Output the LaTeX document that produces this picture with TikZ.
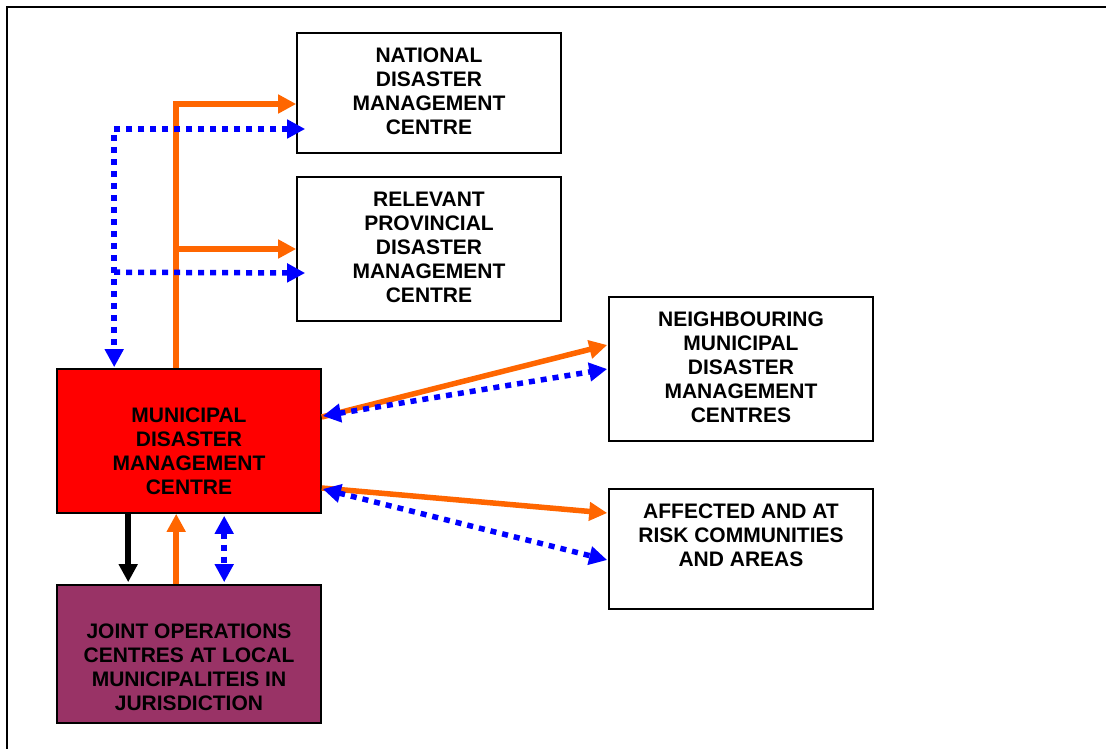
\documentclass[tikz,border=0pt]{standalone}
\usepackage{fontspec}
\setmainfont{Liberation Sans}
\usetikzlibrary{arrows.meta,calc}

\definecolor{orgline}{HTML}{FF6600}
\definecolor{bluline}{HTML}{0000FF}
\definecolor{mdmc}{HTML}{FF0000}
\definecolor{jocfill}{HTML}{993366}

\tikzset{
  panel/.style={draw=black, line width=1.6pt, rectangle, inner sep=0pt},
  paneltext/.style={font={\fontsize{21pt}{24pt}\selectfont\bfseries}, align=center, inner sep=0pt, anchor=north},
  orgarrow/.style={draw=orgline, line width=5.5pt, -{Triangle[length=18pt,width=18pt]}},
  bluarrow/.style={draw=bluline, line width=5.5pt, dash pattern=on 6pt off 6pt, -{Triangle[length=18pt,width=18pt]}},
  blubi/.style={draw=bluline, line width=5.5pt, dash pattern=on 6pt off 6pt, {Triangle[length=18pt,width=18pt]}-{Triangle[length=18pt,width=18pt]}},
  blkarrow/.style={draw=black, line width=5.5pt, -{Triangle[length=18pt,width=18pt]}},
}

\begin{document}
\begin{tikzpicture}[x=1pt, y=-1pt]
\useasboundingbox (0,0) rectangle (1106,749);

% outer frame (top and left edges)
\draw[line width=2pt] (7,749) -- (7,7) -- (1106,7);

% boxes
\node[panel, minimum width=264pt, minimum height=120pt] (nat) at (429,93) {};
\node[panel, minimum width=264pt, minimum height=144pt] (prov) at (429,249) {};
\node[panel, minimum width=264pt, minimum height=144pt] (nbr) at (741,369) {};
\node[panel, minimum width=264pt, minimum height=120pt] (aff) at (741,549) {};
\node[panel, fill=mdmc, minimum width=264pt, minimum height=144pt] (mun) at (189,441) {};
\node[panel, fill=jocfill, minimum width=264pt, minimum height=138pt] (joc) at (189,654) {};

% box texts
\node[paneltext] (natt) at (429,47.7) {NATIONAL\\DISASTER\\MANAGEMENT\\CENTRE};
\node[paneltext] (provt) at (429,191.7) {RELEVANT\\PROVINCIAL\\DISASTER\\MANAGEMENT\\CENTRE};
\node[paneltext] (nbrt) at (741,311.7) {NEIGHBOURING\\MUNICIPAL\\DISASTER\\MANAGEMENT\\CENTRES};
\node[paneltext] (afft) at (741,503.7) {AFFECTED AND AT\\RISK COMMUNITIES\\AND AREAS};
\node[paneltext] (munt) at (189,407.7) {MUNICIPAL\\DISASTER\\MANAGEMENT\\CENTRE};
\node[paneltext] (joct) at (189,623.7) {JOINT OPERATIONS\\CENTRES AT LOCAL\\MUNICIPALITEIS IN\\JURISDICTION};

% reporting lines up to national and provincial centres
\draw[orgarrow] ($(mun.north west)+(120,0)$) |- ($(nat.west)+(0,11)$);
\draw[orgarrow] ($(mun.north west)+(120,0)$) |- (prov.west);

% information exchange with national and provincial centres
\draw[blubi] ($(nat.west)+(9,36)$) -| ($(mun.north west)+(58,-1)$);
\draw[bluarrow] ($(mun.north west)+(58,-96)$) -- ($(prov.west)+(9,24)$);

% links to neighbouring centres
\draw[orgarrow] ($(mun.east)+(0,-24)$) -- ($(nbr.west)+(-1,-24)$);
\draw[blubi] ($(mun.east)+(1,-25)$) -- ($(nbr.west)+(-1,0)$);

% links to affected communities
\draw[orgarrow] ($(mun.east)+(0,47)$) -- ($(aff.west)+(-1,-36)$);
\draw[blubi] ($(mun.east)+(1,48)$) -- ($(aff.west)+(-1,11)$);

% links with joint operations centres
\draw[blkarrow] ($(mun.south west)+(72,0)$) -- ($(joc.north west)+(72,-2)$);
\draw[orgarrow] ($(joc.north west)+(120,0)$) -- ($(mun.south west)+(120,0)$);
\draw[blubi] ($(mun.south west)+(168,2)$) -- ($(joc.north west)+(168,-2)$);
\end{tikzpicture}
\end{document}
